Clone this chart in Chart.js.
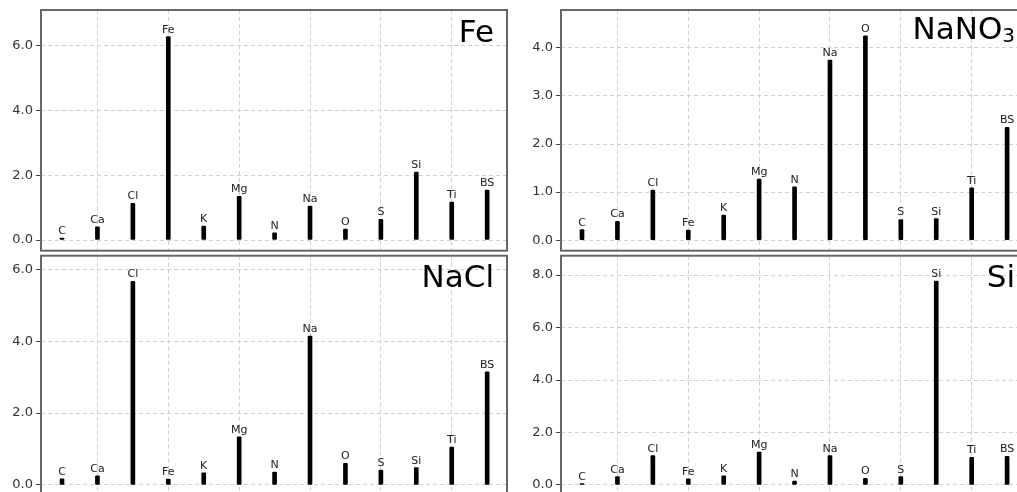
<!DOCTYPE html>
<html><head><meta charset="utf-8">
<script src="https://cdn.jsdelivr.net/npm/chart.js@4/dist/chart.umd.min.js"></script>
<style>
html,body{margin:0;padding:0;width:1017px;height:492px;overflow:hidden;background:#fff;}
canvas{position:absolute;}
</style></head><body>
<canvas id="c1" width="510" height="253" style="left:0;top:0"></canvas>
<canvas id="c2" width="520" height="253" style="left:510px;top:0"></canvas>
<canvas id="c3" width="510" height="253" style="left:0;top:245px"></canvas>
<canvas id="c4" width="520" height="253" style="left:510px;top:245px"></canvas>
<script>
const categories = ['C','Ca','Cl','Fe','K','Mg','N','Na','O','S','Si','Ti','BS'];
const feValues    = [0.06, 0.41, 1.13, 6.28, 0.43, 1.35, 0.22, 1.05, 0.34, 0.64, 2.10, 1.17, 1.54];
const nano3Values = [0.22, 0.39, 1.04, 0.21, 0.52, 1.27, 1.11, 3.75, 4.25, 0.43, 0.45, 1.09, 2.35];
const naclValues  = [0.17, 0.25, 5.67, 0.16, 0.34, 1.34, 0.36, 4.14, 0.60, 0.41, 0.48, 1.05, 3.15];
const siValues    = [0.05, 0.32, 1.12, 0.23, 0.35, 1.25, 0.15, 1.12, 0.25, 0.32, 7.77, 1.05, 1.09];
const feTicks    = [0, 2, 4, 6];
const nano3Ticks = [0, 1, 2, 3, 4];
const naclTicks  = [0, 2, 4, 6];
const siTicks    = [0, 2, 4, 6, 8];
const xGridTicks = [2, 4, 6, 8, 10, 12];

const FONT = "'DejaVu Sans', sans-serif";

function makePanel(id, values, yTicks, yMin, yMax, xMax, axisW, pad, title, sub, titleOff) {
  const labelPlugin = {
    id: 'barLabels',
    afterDatasetsDraw(chart) {
      const ctx = chart.ctx;
      const meta = chart.getDatasetMeta(0);
      ctx.save();
      ctx.font = '11px ' + FONT;
      ctx.fillStyle = '#222';
      ctx.textAlign = 'center';
      ctx.textBaseline = 'alphabetic';
      meta.data.forEach((el, i) => {
        ctx.fillText(categories[i], el.x, el.y - 4);
      });
      ctx.restore();
    }
  };
  const framePlugin = {
    id: 'frame',
    afterDraw(chart) {
      const a = chart.chartArea, ctx = chart.ctx;
      ctx.save();
      ctx.strokeStyle = '#666';
      ctx.lineWidth = 2;
      ctx.strokeRect(a.left, a.top, a.right - a.left, a.bottom - a.top);
      ctx.fillStyle = '#000';
      ctx.textBaseline = 'alphabetic';
      ctx.font = '31px ' + FONT;
      const mainW = ctx.measureText(title).width;
      let subW = 0;
      if (sub) { ctx.font = '20px ' + FONT; subW = ctx.measureText(sub).width; }
      const x0 = a.right - 13 - mainW - subW;
      const by = a.top + titleOff;
      ctx.font = '31px ' + FONT;
      ctx.textAlign = 'left';
      ctx.fillText(title, x0, by);
      if (sub) { ctx.font = '20px ' + FONT; ctx.fillText(sub, x0 + mainW, by + 3); }
      ctx.restore();
    }
  };
  return new Chart(document.getElementById(id), {
    type: 'bar',
    data: {
      datasets: [{
        data: values.map((v, i) => ({ x: i + 1, y: v })),
        backgroundColor: '#000',
        barThickness: 4,
        borderRadius: 1,
        borderSkipped: false
      }]
    },
    options: {
      responsive: false,
      animation: false,
      layout: { padding: pad },
      plugins: { legend: { display: false }, tooltip: { enabled: false } },
      scales: {
        x: {
          type: 'linear',
          offset: false,
          min: 0.407, max: xMax,
          afterBuildTicks: s => { s.ticks = xGridTicks.map(v => ({ value: v })); },
          afterFit: s => { s.height = 0; s.paddingLeft = 0; s.paddingRight = 0; },
          ticks: { display: false },
          grid: { color: '#cfcfcf', drawTicks: false, lineWidth: 1, offset: false },
          border: { display: false, dash: [4, 3] }
        },
        y: {
          type: 'linear',
          min: yMin, max: yMax,
          afterBuildTicks: s => { s.ticks = yTicks.map(v => ({ value: v })); },
          afterFit: s => { s.width = axisW; s.paddingTop = 0; s.paddingBottom = 0; },
          ticks: {
            callback: v => Number(v).toFixed(1),
            font: { family: FONT, size: 13 },
            color: '#333',
            padding: 3
          },
          grid: { color: '#cfcfcf', tickColor: '#444', tickLength: 5, lineWidth: 1 },
          border: { display: false, dash: [4, 3] }
        }
      }
    },
    plugins: [labelPlugin, framePlugin]
  });
}

makePanel('c1', feValues,    feTicks,    -0.33, 7.10, 13.56, 41, { top: 10,   right: 3, bottom: 2.3, left: 0 }, 'Fe',   '',  31.7);
makePanel('c2', nano3Values, nano3Ticks, -0.22, 4.79, 13.59, 51, { top: 10,   right: 2, bottom: 2.3, left: 0 }, 'NaNO', '3', 29.3);
makePanel('c3', naclValues,  naclTicks,  -0.30, 6.38, 13.56, 41, { top: 10.7, right: 3, bottom: 2.3, left: 0 }, 'NaCl', '',  31);
makePanel('c4', siValues,    siTicks,    -0.41, 8.74, 13.59, 51, { top: 10.7, right: 2, bottom: 2.3, left: 0 }, 'Si',   '',  31);
</script>
</body></html>
